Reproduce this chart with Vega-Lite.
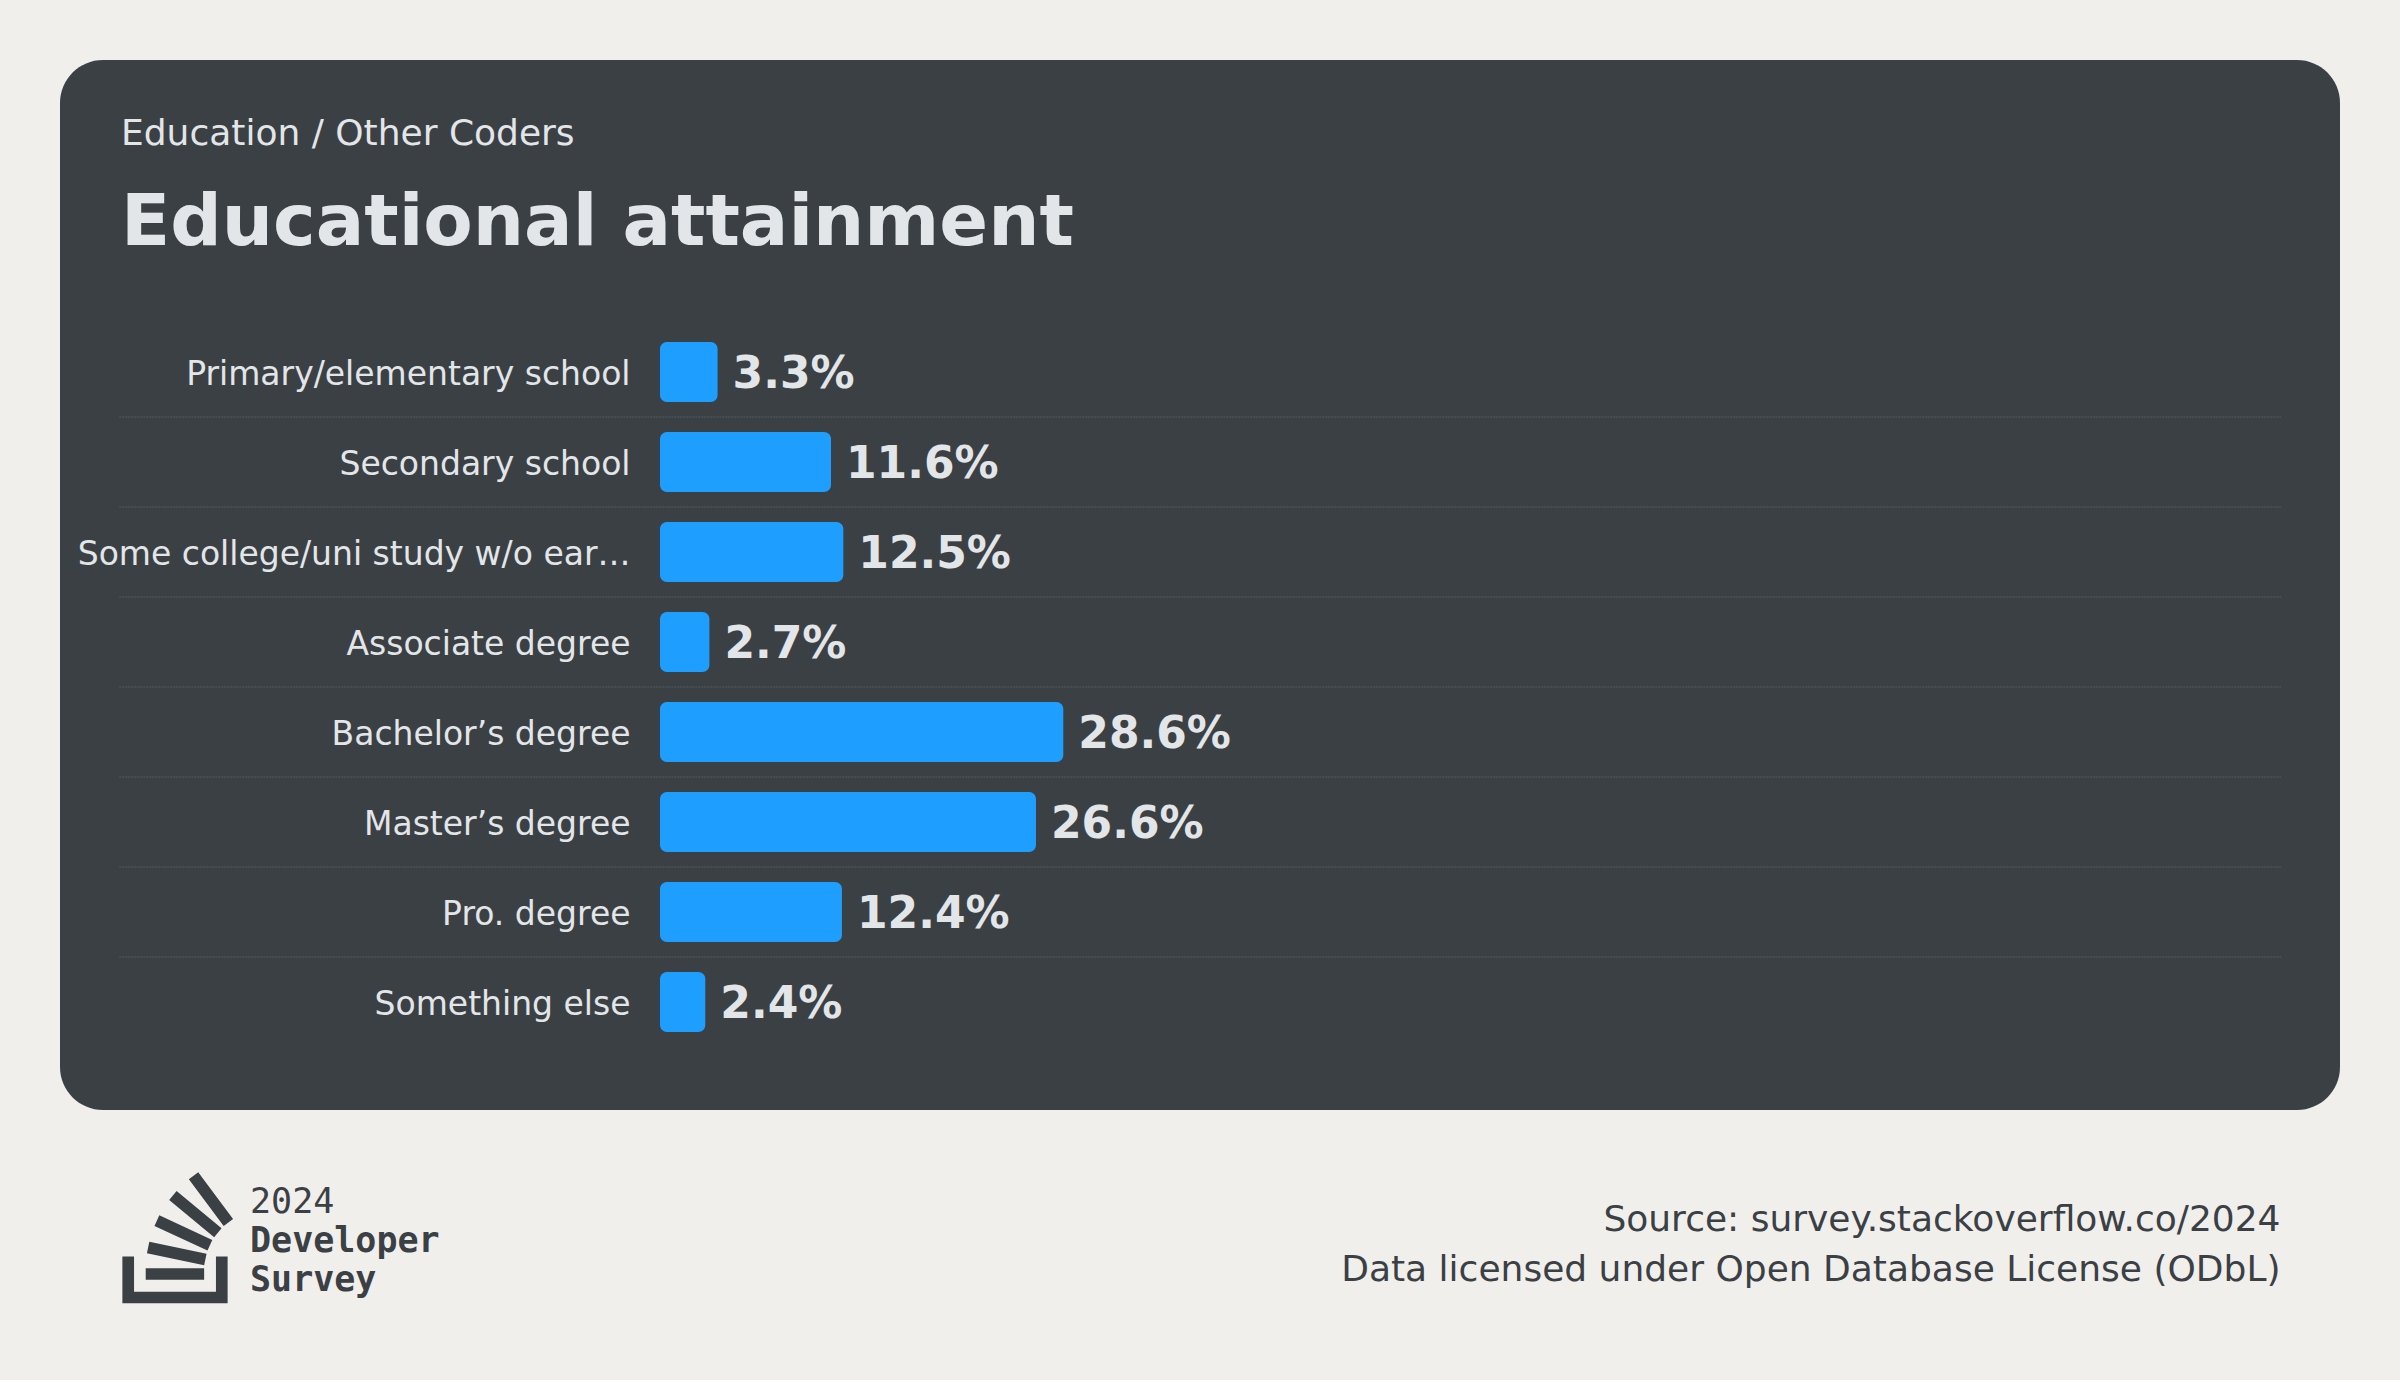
{
  "$schema": "https://vega.github.io/schema/vega-lite/v6.json",
  "width": 2280,
  "height": 1050,
  "autosize": {"type": "none"},
  "padding": {"left": 60, "top": 60, "right": 60, "bottom": 270},
  "background": "#f0efec",
  "title": {
    "text": "Education / Other Coders",
    "subtitle": "Educational attainment",
    "anchor": "start",
    "frame": "group",
    "orient": "top",
    "offset": -200,
    "dx": 61,
    "font": "DejaVu Sans",
    "fontSize": 36,
    "fontWeight": "normal",
    "color": "#e3e6e8",
    "subtitleFont": "DejaVu Sans",
    "subtitleFontSize": 72,
    "subtitleFontWeight": "bold",
    "subtitleColor": "#e3e6e8",
    "subtitlePadding": 35.5
  },
  "config": {
    "view": {"fill": "#3b4045", "stroke": null, "cornerRadius": 43},
    "font": "DejaVu Sans",
    "axisY": {
      "labelFont": "DejaVu Sans",
      "labelFontSize": 33,
      "labelColor": "#e3e6e8",
      "labelPadding": 30,
      "labelLimit": 563,
      "labelOffset": 3,
      "ticks": false,
      "domain": false,
      "grid": false
    },
    "axisX": {
      "labels": false,
      "ticks": false,
      "domain": false,
      "grid": false,
      "titleFont": "DejaVu Sans",
      "titleFontSize": 36,
      "titleFontWeight": "normal",
      "titleColor": "#3b4045",
      "titleAnchor": "end",
      "titleAlign": "right",
      "titleBaseline": "alphabetic",
      "titleX": 2220,
      "titleY": 120,
      "titleLineHeight": 50
    }
  },
  "data": {
    "values": [
      {"cat": "Primary/elementary school", "value": 0.033},
      {"cat": "Secondary school", "value": 0.116},
      {"cat": "Some college/uni study w/o earning a degree", "value": 0.125},
      {"cat": "Associate degree", "value": 0.027},
      {"cat": "Bachelor’s degree", "value": 0.286},
      {"cat": "Master’s degree", "value": 0.266},
      {"cat": "Pro. degree", "value": 0.124},
      {"cat": "Something else", "value": 0.024}
    ]
  },
  "layer": [
    {
      "mark": {"type": "bar", "color": "#1e9fff", "cornerRadius": 7},
      "encoding": {
        "y": {
          "field": "cat",
          "type": "nominal",
          "sort": null,
          "title": null,
          "scale": {
            "domain": ["Primary/elementary school", "Secondary school", "Some college/uni study w/o earning a degree", "Associate degree", "Bachelor’s degree", "Master’s degree", "Pro. degree", "Something else"],
            "range": [282, 972],
            "paddingInner": 0.3333,
            "paddingOuter": 0
          },
          "axis": {"orient": "left", "offset": -600, "title": null}
        },
        "x": {
          "field": "value",
          "type": "quantitative",
          "scale": {"domain": [-0.44826, 1.22036], "nice": false, "zero": false},
          "axis": {"title": ["Source: survey.stackoverflow.co/2024", "Data licensed under Open Database License (ODbL)"]}
        },
        "x2": {"datum": -0.00915}
      }
    },
    {
      "transform": [{"filter": "datum.cat !== 'Primary/elementary school'"}],
      "mark": {"type": "rule", "color": "#565b60", "strokeWidth": 1, "strokeDash": [2, 1]},
      "encoding": {
        "y": {"field": "cat", "type": "nominal", "sort": null, "title": null, "bandPosition": -0.25},
        "x": {"datum": -0.40486},
        "x2": {"datum": 1.17718}
      }
    },
    {
      "mark": {"type": "text", "align": "left", "baseline": "middle", "dx": 15, "dy": 3, "font": "DejaVu Sans", "fontSize": 44, "fontWeight": "bold", "color": "#e3e6e8"},
      "encoding": {
        "y": {"field": "cat", "type": "nominal", "sort": null, "title": null},
        "x": {"field": "value", "type": "quantitative"},
        "text": {"field": "value", "type": "quantitative", "format": ".1%"}
      }
    },
    {
      "data": {"values": [{}]},
      "mark": {
        "type": "point",
        "filled": true,
        "color": "#3b4045",
        "opacity": 1,
        "strokeWidth": 0,
        "size": 9.17,
        "shape": "M103,191.3L103,168.1L110.7,168.1L110.7,199L41.2,199L41.2,168.1L48.9,168.1L48.9,191.3Z M57.4,165.9L95.2,173.8L96.8,166.2L59,158.3Z M62.4,147.9L97.4,164.2L100.6,157.2L65.6,140.8Z M72.1,130.7L101.8,155.4L106.7,149.5L77,124.8Z M91.3,112.4L85.1,117L108.1,148L114.3,143.4Z M56.6,183.5L95.2,183.5L95.2,175.8L56.6,175.8Z"
      },
      "encoding": {
        "x": {"datum": -0.44826},
        "y": {"datum": "Something else"}
      }
    },
    {
      "data": {"values": [{}]},
      "mark": {"type": "text", "text": "2024", "font": "DejaVu Sans Mono", "fontSize": 35, "fontWeight": "normal", "color": "#3b4045", "align": "left", "baseline": "alphabetic", "dx": 190, "dy": 211},
      "encoding": {
        "x": {"datum": -0.44826},
        "y": {"datum": "Something else"}
      }
    },
    {
      "data": {"values": [{}]},
      "mark": {"type": "text", "text": ["Developer", "Survey"], "lineHeight": 39, "font": "DejaVu Sans Mono", "fontSize": 35, "fontWeight": "bold", "color": "#3b4045", "align": "left", "baseline": "alphabetic", "dx": 190, "dy": 250},
      "encoding": {
        "x": {"datum": -0.44826},
        "y": {"datum": "Something else"}
      }
    }
  ]
}
